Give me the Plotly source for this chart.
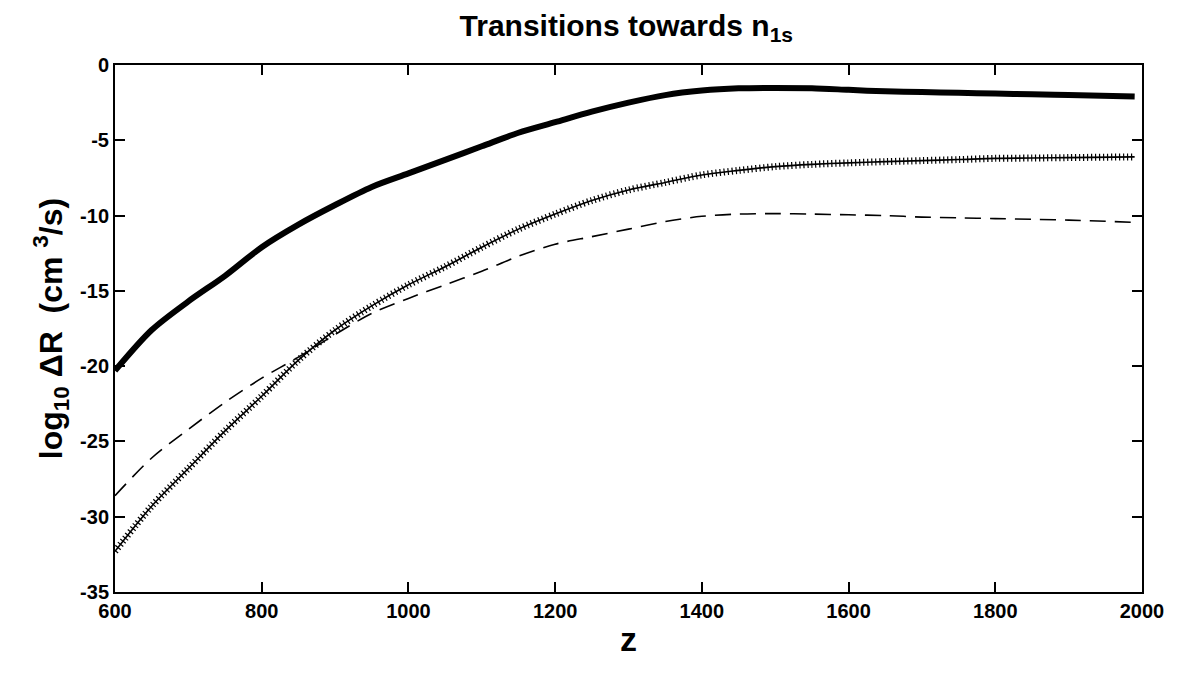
import plotly.graph_objects as go

z = [600, 650, 700, 750, 800, 850, 900, 950, 1000, 1050, 1100, 1150, 1200, 1250,
     1300, 1350, 1400, 1450, 1500, 1550, 1600, 1650, 1700, 1750, 1800, 1850, 1900, 1990]

solid = [-20.3, -17.6, -15.7, -14.0, -12.1, -10.6, -9.3, -8.1, -7.2, -6.3, -5.4, -4.5,
         -3.8, -3.1, -2.5, -2.0, -1.7, -1.55, -1.52, -1.55, -1.65, -1.75, -1.8, -1.85,
         -1.9, -1.95, -2.0, -2.1]

crosses = [-32.3, -29.3, -26.8, -24.3, -22.0, -19.6, -17.6, -16.0, -14.6, -13.4, -12.1,
           -10.9, -9.9, -9.0, -8.3, -7.8, -7.3, -7.0, -6.75, -6.6, -6.5, -6.42, -6.35,
           -6.28, -6.2, -6.18, -6.15, -6.1]

dashed = [-28.6, -26.1, -24.2, -22.4, -20.8, -19.4, -17.9, -16.5, -15.5, -14.6, -13.7,
          -12.7, -11.9, -11.4, -10.9, -10.4, -10.05, -9.9, -9.87, -9.9, -9.95, -10.0,
          -10.1, -10.15, -10.2, -10.25, -10.3, -10.45]

x_ticks = [600, 800, 1000, 1200, 1400, 1600, 1800, 2000]
y_ticks = [0, -5, -10, -15, -20, -25, -30, -35]

FONT = "Liberation Sans Narrow, Arial Narrow, Liberation Sans, Arial, sans-serif"
TFONT = "Liberation Sans, Arial, sans-serif"

fig = go.Figure()
fig.add_trace(go.Scatter(x=z, y=solid, mode="lines",
                         line=dict(color="black", width=6, shape="spline", smoothing=0.85),
                         showlegend=False))
fig.add_trace(go.Scatter(x=z, y=dashed, mode="lines",
                         line=dict(color="black", width=1.6, dash="16px,9px", shape="spline", smoothing=0.85),
                         showlegend=False))
fig.add_trace(go.Scatter(x=z, y=crosses, mode="lines",
                         line=dict(color="black", width=1.6, shape="spline", smoothing=0.85),
                         showlegend=False))
fig.add_trace(go.Scatter(x=z, y=crosses, mode="lines",
                         line=dict(color="black", width=7, dash="1.2px,2.8px", shape="spline", smoothing=0.85),
                         showlegend=False))

axis_common = dict(showgrid=False, zeroline=False, showline=True, linecolor="black", linewidth=2,
                   mirror="ticks", ticks="inside", ticklen=10, tickwidth=2, tickcolor="black",
                   tickfont=dict(family=FONT, size=20, color="black", weight="bold"))

fig.update_xaxes(range=[600, 2000], tickvals=x_ticks, ticktext=[str(v) for v in x_ticks],
                 title=dict(text="z", font=dict(family=TFONT, size=34, color="black", weight="bold"),
                            standoff=6),
                 **axis_common)
fig.update_yaxes(range=[-35, 0], tickvals=y_ticks, ticktext=[str(v) for v in y_ticks],
                 title=dict(text="log<sub>10</sub> ΔR  (cm <sup>3</sup>/s)",
                            font=dict(family=TFONT, size=32, color="black", weight="bold"),
                            standoff=8),
                 **axis_common)

fig.update_layout(
    width=1171, height=657,
    margin=dict(l=107, r=37, t=57, b=73),
    paper_bgcolor="white", plot_bgcolor="white",
    title=dict(text="Transitions towards n<sub>1s</sub>", x=0.528, xanchor="center",
               y=0.99, yanchor="top",
               font=dict(family=TFONT, size=30, color="black", weight="bold")),
)

fig.write_html("out.html")
